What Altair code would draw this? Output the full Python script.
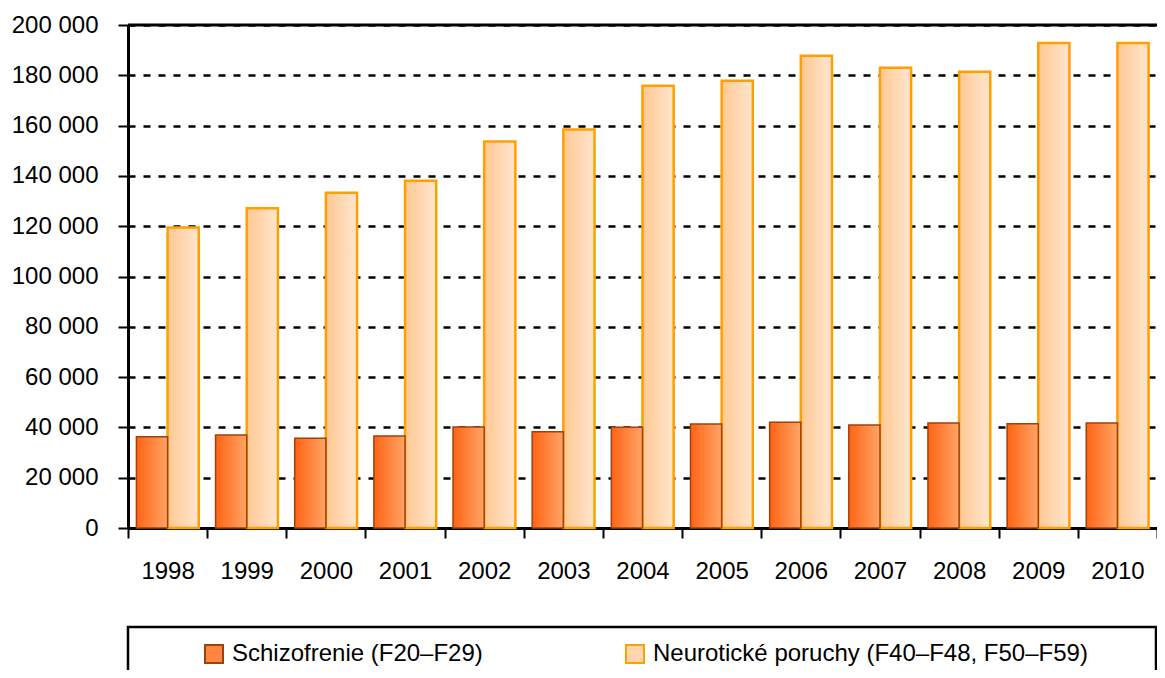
import altair as alt
import pandas as pd

years = ["1998", "1999", "2000", "2001", "2002", "2003", "2004",
         "2005", "2006", "2007", "2008", "2009", "2010"]
schizo = [36300, 37000, 35700, 36600, 40200, 38300, 40100,
          41400, 42000, 41000, 41700, 41500, 41700]
neuro = [119500, 127100, 133300, 138100, 153700, 158400, 175800,
         177800, 187800, 183000, 181400, 192800, 192800]
S_NAME = "Schizofrenie (F20–F29)"
N_NAME = "Neurotické poruchy (F40–F48, F50–F59)"
series_names = [S_NAME, N_NAME]
y_ticks = [0, 20000, 40000, 60000, 80000, 100000, 120000, 140000, 160000, 180000, 200000]

rows = []
for y, s, n in zip(years, schizo, neuro):
    rows.append({"year": y, "series": S_NAME, "value": s})
    rows.append({"year": y, "series": N_NAME, "value": n})
df = pd.DataFrame(rows)

FONT = "Liberation Sans"

grad_s = alt.Gradient(gradient="linear", x1=0, x2=1, y1=0, y2=0,
                      stops=[alt.GradientStop(offset=0, color="#FF6414"),
                             alt.GradientStop(offset=1, color="#FFA466")])
grad_n = alt.Gradient(gradient="linear", x1=0, x2=1, y1=0, y2=0,
                      stops=[alt.GradientStop(offset=0, color="#FFC892"),
                             alt.GradientStop(offset=1, color="#FFE6CF")])

x_enc = alt.X(
    "year:N",
    scale=alt.Scale(paddingInner=0, paddingOuter=0),
    axis=alt.Axis(title=None, labelAngle=0, tickBand="extent",
                  domainColor="black", domainWidth=3,
                  tickColor="black", tickWidth=2, tickSize=10,
                  labelFont=FONT, labelFontSize=24, labelColor="black",
                  labelPadding=21, grid=False),
)
y_enc = alt.Y(
    "value:Q",
    scale=alt.Scale(domain=[0, 200000], nice=False),
    axis=alt.Axis(title=None, values=y_ticks,
                  labelExpr="replace(format(datum.value, ',d'), ',', ' ')",
                  domainColor="black", domainWidth=3,
                  tickColor="black", tickWidth=2, tickSize=10,
                  labelFont=FONT, labelFontSize=24, labelColor="black",
                  labelPadding=20,
                  grid=True, gridColor="black", gridWidth=2.5, gridDash=[7, 8]),
)
xo_enc = alt.XOffset("series:N", scale=alt.Scale(domain=series_names, paddingInner=0, paddingOuter=0.27))

base = alt.Chart(df)
s_bars = base.transform_filter(alt.datum.series == S_NAME).mark_bar(
    fill=grad_s, stroke="#A0400C", strokeWidth=1.5
).encode(x=x_enc, xOffset=xo_enc, y=y_enc)
n_bars = base.transform_filter(alt.datum.series == N_NAME).mark_bar(
    fill=grad_n, stroke="#FFA000", strokeWidth=2.5
).encode(x=x_enc, xOffset=xo_enc, y=y_enc)

top_rule = alt.Chart(pd.DataFrame({"value": [200000]})).mark_rule(
    color="black", strokeWidth=3
).encode(y=alt.Y("value:Q"))

legend_def = alt.Legend(
    title=None, orient="none", legendX=74, legendY=617,
    direction="horizontal", columnPadding=139,
    symbolType="square", symbolSize=324, symbolStrokeWidth=2,
    symbolOpacity=1,
    labelFont=FONT, labelFontSize=24, labelColor="black",
    labelOffset=6, labelLimit=0, padding=0,
)
legend_layer = alt.Chart(pd.DataFrame({"series": series_names})).mark_square(
    opacity=0, size=1
).encode(
    fill=alt.Fill("series:N",
                  scale=alt.Scale(domain=series_names, range=["#FF8640", "#FFD6AE"]),
                  legend=legend_def),
    stroke=alt.Stroke("series:N",
                      scale=alt.Scale(domain=series_names, range=["#A0400C", "#FFA000"]),
                      legend=legend_def),
)

frame = alt.Chart(pd.DataFrame({"k": [0]})).mark_rect(
    fillOpacity=0, stroke="black", strokeWidth=2.5
).encode(x=alt.value(0), x2=alt.value(1028), y=alt.value(602), y2=alt.value(720))

chart = alt.layer(n_bars, s_bars, top_rule, legend_layer, frame).properties(
    width=1029, height=503,
    autosize=alt.AutoSizeParams(type="none"),
    padding={"left": 120, "top": 17, "right": 0, "bottom": 142},
).configure_view(strokeWidth=0).configure(background="white")

chart.save("out.html", embed_options={"renderer": "svg", "actions": False})
